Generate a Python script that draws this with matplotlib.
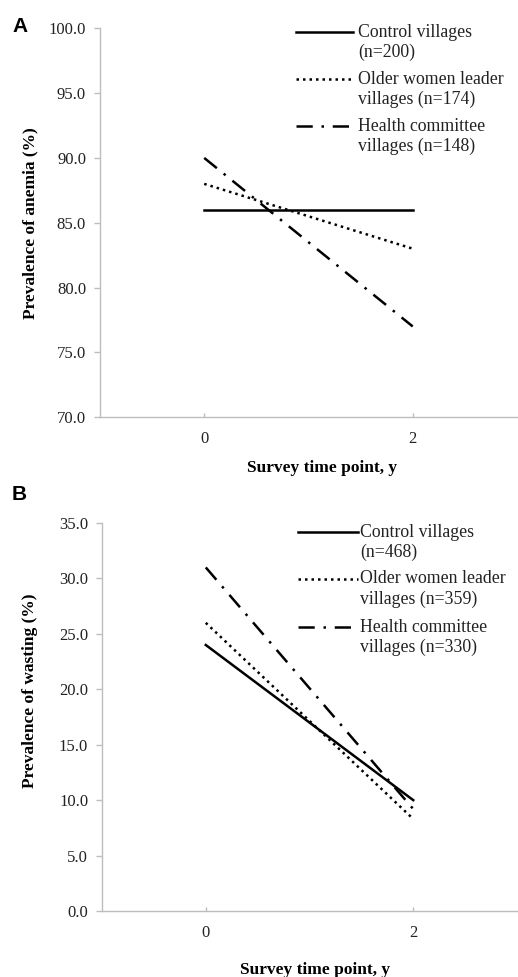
import matplotlib
matplotlib.use('Agg')
import matplotlib.pyplot as plt

# Survey data
time_points = [0, 2]
anemia_control = [86.0, 86.0]
anemia_older = [88.0, 83.0]
anemia_health = [90.0, 77.0]
wasting_control = [24.0, 10.0]
wasting_older = [26.0, 8.3]
wasting_health = [31.0, 9.2]

anemia_labels = ['Control villages\n(n=200)', 'Older women leader\nvillages (n=174)', 'Health committee\nvillages (n=148)']
wasting_labels = ['Control villages\n(n=468)', 'Older women leader\nvillages (n=359)', 'Health committee\nvillages (n=330)']

SERIF = 'Liberation Serif'
SPINE = '#bdbdbd'
STYLES = ['-', (0, (1, 1.6)), (0, (6.5, 3.5, 1, 3.5))]

fig = plt.figure(figsize = (5.18, 9.77), dpi = 100)
ax_a = fig.add_axes([0.193, 0.573, 0.805, 0.398])
ax_b = fig.add_axes([0.197, 0.0676, 0.801, 0.397])


def style_axes(ax, ylim, yticks, ylabel, xlab_pos, ylab_pos):
    """Excel-like axes styling."""
    ax.set_xlim(-1, 3)
    ax.set_ylim(*ylim)
    ax.set_xticks(time_points)
    ax.set_yticks(yticks)
    ax.set_yticklabels([f'{v:.1f}' for v in yticks])
    for side in ['top', 'right']:
        ax.spines[side].set_visible(False)
    for side in ['left', 'bottom']:
        ax.spines[side].set_color(SPINE)
        ax.spines[side].set_linewidth(1.0)
    ax.tick_params(axis = 'y', direction = 'out', length = 4, width = 1, color = SPINE, pad = 6)
    ax.tick_params(axis = 'x', direction = 'in', length = 3, width = 1, color = SPINE, pad = 10)
    for lbl in ax.get_xticklabels() + ax.get_yticklabels():
        lbl.set_fontfamily(SERIF)
        lbl.set_fontsize(12)
        lbl.set_color('#222222')
    ax.set_xlabel('Survey time point, y', fontfamily = SERIF, fontweight = 'bold', fontsize = 12.5)
    ax.set_ylabel(ylabel, fontfamily = SERIF, fontweight = 'bold', fontsize = 12.5)
    ax.xaxis.set_label_coords(*xlab_pos)
    ax.xaxis.label.set_verticalalignment('center')
    ax.yaxis.set_label_coords(*ylab_pos)
    ax.yaxis.label.set_verticalalignment('center')


def draw_legend(ax, labels, x0, x1, xt, rows):
    """Legend with handle aligned to the first text line."""
    for i, label in enumerate(labels):
        y1, y2 = rows[i]
        ax.plot([x0, x1], [y1, y1], transform = ax.transAxes, clip_on = False,
                color = 'black', lw = 1.8, linestyle = STYLES[i])
        first, second = label.split('\n')
        ax.text(xt, y1, first, transform = ax.transAxes, va = 'center', ha = 'left',
                fontfamily = SERIF, fontsize = 12.8, color = '#222222')
        ax.text(xt, y2, second, transform = ax.transAxes, va = 'center', ha = 'left',
                fontfamily = SERIF, fontsize = 12.8, color = '#222222')


# Panel A - anemia
for series, ls in zip([anemia_control, anemia_older, anemia_health], STYLES):
    ax_a.plot(time_points, series, color = 'black', lw = 1.8, linestyle = ls)
style_axes(ax_a, (70, 100), [70, 75, 80, 85, 90, 95, 100], 'Prevalence of anemia (%)',
           (0.532, -0.131), (-0.168, 0.5))
draw_legend(ax_a, anemia_labels, 0.470, 0.607, 0.619,
            [(0.990, 0.938), (0.869, 0.817), (0.748, 0.697)])

# Panel B - wasting
for series, ls in zip([wasting_control, wasting_older, wasting_health], STYLES):
    ax_b.plot(time_points, series, color = 'black', lw = 1.8, linestyle = ls)
style_axes(ax_b, (0, 35), [0, 5, 10, 15, 20, 25, 30, 35], 'Prevalence of wasting (%)',
           (0.513, -0.152), (-0.173, 0.567))
draw_legend(ax_b, wasting_labels, 0.472, 0.617, 0.622,
            [(0.977, 0.925), (0.856, 0.804), (0.732, 0.680)])

# Panel letters
fig.text(12 / 518, 1 - 26 / 977, 'A', fontfamily = 'Liberation Sans', fontweight = 'bold',
         fontsize = 15, va = 'center', ha = 'left')
fig.text(12 / 518, 1 - 495 / 977, 'B', fontfamily = 'Liberation Sans', fontweight = 'bold',
         fontsize = 15, va = 'center', ha = 'left')

fig.savefig('out.png', dpi = 100)
